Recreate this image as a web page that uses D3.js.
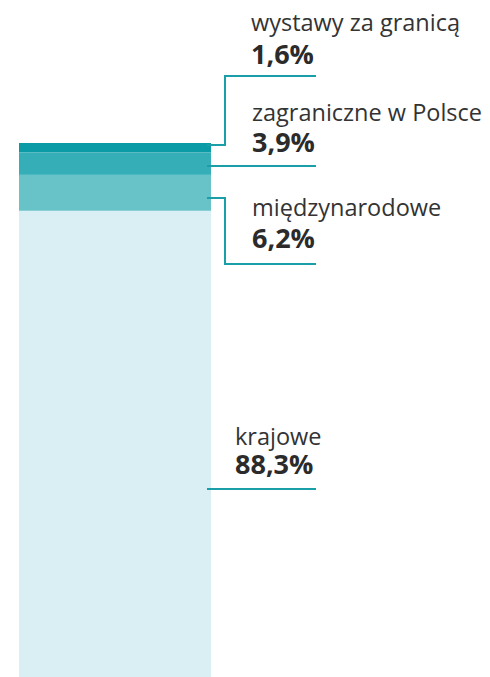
<!DOCTYPE html>
<html><head><meta charset="utf-8">
<script src="https://cdn.jsdelivr.net/npm/d3@7"></script>
<style>html,body{margin:0;padding:0;background:#fff;}svg{display:block;}</style>
</head><body>
<svg id="chart" width="490" height="677"></svg>
<script>
// ---- data ----
const categories = ["wystawy za granicą", "zagraniczne w Polsce", "międzynarodowe", "krajowe"];
const values = [1.6, 3.9, 6.2, 88.3];
const valueLabels = ["1,6%", "3,9%", "6,2%", "88,3%"];
const colors = ["#0a9ba6", "#36aeb8", "#68c3c9", "#d9eff4"];

// ---- layout (annotation placement) ----
const labelX = [251, 252, 252, 235];
const nameBaseline = [31, 121, 216, 445];
const valueBaseline = [64, 152, 248, 474];
const leaderLineY = [76, 166, 264, 489];   // horizontal underline under each label
const leaderStartY = [145, 166, 198, 489]; // where the leader meets the bar
const lineColor = "#1a9fa9";

const svg = d3.select("#chart");

const y = d3.scaleLinear().domain([0, 100]).range([143, 143 + 580]);
const x = d3.scaleBand().domain(["total"]).range([19, 211]).padding(0);

let cum = 0;
const stack = values.map((v, i) => { const d = {i, v, y0: cum, y1: cum + v}; cum += v; return d; });

svg.selectAll("rect.seg").data(stack).enter().append("rect")
  .attr("class", "seg")
  .attr("x", x("total"))
  .attr("width", x.bandwidth())
  .attr("y", d => y(d.y0))
  .attr("height", d => y(d.y1) - y(d.y0))
  .attr("fill", d => colors[d.i]);

const barRight = x("total") + x.bandwidth();
const elbowX = 225, lineEnd = 316;

stack.forEach((d, i) => {
  let pts;
  if (leaderStartY[i] === leaderLineY[i]) {
    pts = [[barRight - 4, leaderLineY[i]], [lineEnd, leaderLineY[i]]];
  } else {
    pts = [[barRight - 4, leaderStartY[i]], [elbowX, leaderStartY[i]], [elbowX, leaderLineY[i]], [lineEnd, leaderLineY[i]]];
  }
  svg.append("path")
    .attr("d", d3.line()(pts))
    .attr("fill", "none")
    .attr("stroke", lineColor)
    .attr("stroke-width", 2);

  svg.append("text")
    .attr("x", labelX[i]).attr("y", nameBaseline[i])
    .attr("font-family", "'Open Sans', sans-serif")
    .attr("font-size", 23.5)
    .attr("fill", "#333")
    .text(categories[i]);
  svg.append("text")
    .attr("x", labelX[i]).attr("y", valueBaseline[i])
    .attr("font-family", "'Open Sans', sans-serif")
    .attr("font-weight", 700)
    .attr("font-size", 27)
    .attr("fill", "#2b2b2b")
    .text(valueLabels[i]);
});
</script>
</body></html>
